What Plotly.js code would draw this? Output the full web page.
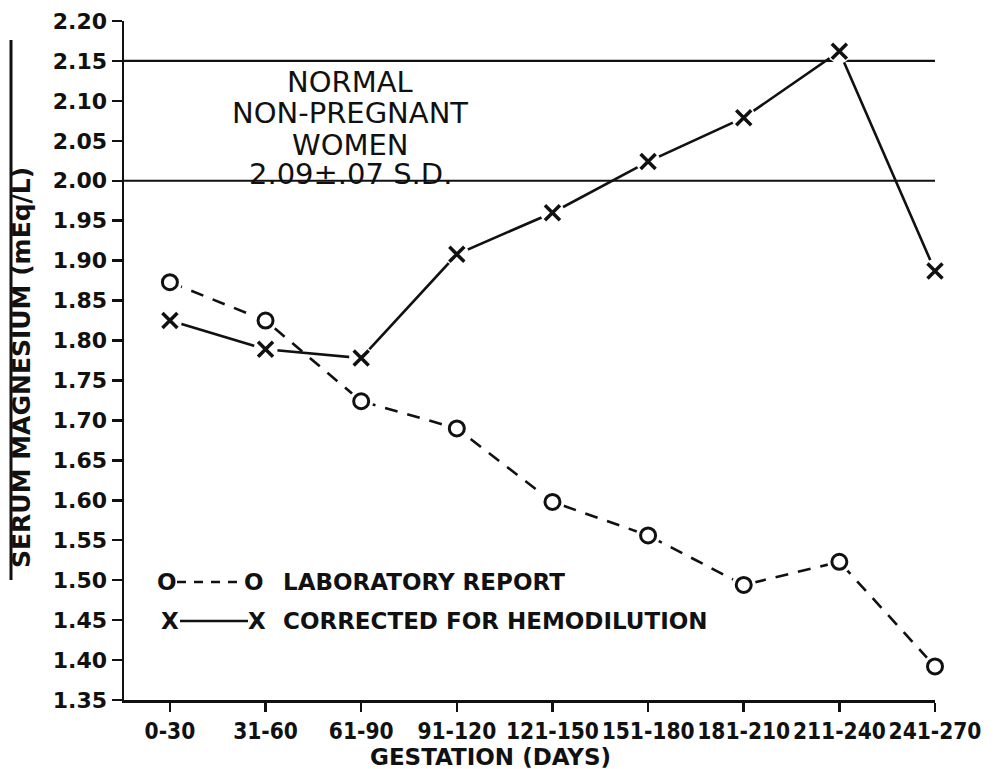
<!DOCTYPE html>
<html>
<head>
<meta charset="utf-8">
<script src="https://cdn.plot.ly/plotly-3.0.1.min.js"></script>
<style>html,body{margin:0;padding:0;background:#fff;}#chart{width:997px;height:769px;}</style>
</head>
<body>
<div id="chart"></div>
<script>
// ---- data ----
const categories = ["0-30","31-60","61-90","91-120","121-150","151-180","181-210","211-240","241-270"];
const laboratoryReport = [1.873, 1.825, 1.724, 1.690, 1.598, 1.556, 1.494, 1.523, 1.392];
const correctedForHemodilution = [1.825, 1.789, 1.778, 1.908, 1.960, 2.024, 2.079, 2.162, 1.887];
const normalBand = [2.00, 2.15];
const yTickValues = [1.35,1.40,1.45,1.50,1.55,1.60,1.65,1.70,1.75,1.80,1.85,1.90,1.95,2.00,2.05,2.10,2.15,2.20];
const yTickLabels = yTickValues.map(v => v.toFixed(2));
const normalText = ["NORMAL", "NON-PREGNANT", "WOMEN", "2.09\u00b1.07 S.D."];
const legendLabels = ["LABORATORY REPORT", "CORRECTED FOR HEMODILUTION"];
const xTitle = "GESTATION (DAYS)";
const yTitle = "SERUM MAGNESIUM (mEq/L)";

// ---- layout geometry helpers (pixel -> paper) ----
const W = 997, H = 769;
const M = {l: 124, r: 62, t: 21, b: 69};
const PW = W - M.l - M.r, PH = H - M.t - M.b;
const px = x => (x - M.l) / PW;
const py = y => (H - M.b - y) / PH;

const FONT = "DejaVu Sans, Liberation Sans, Arial, sans-serif";
const FONT_NARROW = "DejaVu Sans Condensed, Liberation Sans Narrow, DejaVu Sans, sans-serif";
const BLACK = "#111";

const traces = [
  {x: categories, y: laboratoryReport, mode: "lines", line: {color: BLACK, width: 2.6, dash: "13px,10px"}, hoverinfo: "skip", cliponaxis: false},
  {x: categories, y: correctedForHemodilution, mode: "lines", line: {color: BLACK, width: 2.6}, hoverinfo: "skip", cliponaxis: false},
  {x: categories, y: laboratoryReport, mode: "markers", marker: {symbol: "circle", size: 24, color: "#fff"}, hoverinfo: "skip", cliponaxis: false},
  {x: categories, y: correctedForHemodilution, mode: "markers", marker: {symbol: "circle", size: 24, color: "#fff"}, hoverinfo: "skip", cliponaxis: false},
  {x: categories, y: laboratoryReport, mode: "markers", name: legendLabels[0], cliponaxis: false,
   marker: {symbol: "circle-open", size: 15, color: BLACK, line: {color: BLACK, width: 3}}},
  {x: categories, y: correctedForHemodilution, mode: "markers", name: legendLabels[1], cliponaxis: false,
   marker: {symbol: "x-thin-open", size: 15, color: BLACK, line: {color: BLACK, width: 3.5}}}
];

const shapes = normalBand.map(v => ({type: "line", xref: "paper", yref: "y", x0: 0, x1: 1, y0: v, y1: v,
  line: {color: BLACK, width: 2.2}, layer: "below"}));
// rule beside the y title
shapes.push({type: "line", xref: "paper", yref: "paper", x0: px(11), x1: px(11), y0: py(40), y1: py(580), line: {color: BLACK, width: 3}});
// legend samples
shapes.push({type: "line", xref: "paper", yref: "paper", x0: px(177), x1: px(245), y0: py(582), y1: py(582), line: {color: BLACK, width: 2.6, dash: "9px,8px"}});
shapes.push({type: "line", xref: "paper", yref: "paper", x0: px(180), x1: px(248), y0: py(621), y1: py(621), line: {color: BLACK, width: 2.6}});

const annotations = [];
const normalY = [82, 113, 145, 174];
normalText.forEach((t, i) => annotations.push({xref: "paper", yref: "paper", x: px(350), y: py(normalY[i]),
  text: t, showarrow: false, xanchor: "center", yanchor: "middle", borderpad: 0,
  font: {family: FONT, size: 29, color: BLACK}}));
// legend glyphs and labels
const glyph = (t, x, y) => ({xref: "paper", yref: "paper", x: px(x), y: py(y), text: t, showarrow: false,
  xanchor: "center", yanchor: "middle", font: {family: FONT, size: 23, color: BLACK, weight: "bold"}});
annotations.push(glyph("O", 167, 582), glyph("O", 254, 582), glyph("X", 170, 621), glyph("X", 257, 621));
annotations.push({xref: "paper", yref: "paper", x: px(281), y: py(582), text: legendLabels[0], showarrow: false,
  xanchor: "left", yanchor: "middle", font: {family: FONT, size: 23, color: BLACK, weight: "bold"}});
annotations.push({xref: "paper", yref: "paper", x: px(281), y: py(621), text: legendLabels[1], showarrow: false,
  xanchor: "left", yanchor: "middle", font: {family: FONT, size: 23, color: BLACK, weight: "bold"}});
// axis titles
annotations.push({xref: "paper", yref: "paper", x: px(490), y: py(757), text: xTitle, showarrow: false,
  xanchor: "center", yanchor: "middle", font: {family: FONT, size: 23, color: BLACK, weight: "bold"}});
annotations.push({xref: "paper", yref: "paper", x: px(21), y: py(368), text: yTitle, showarrow: false, textangle: -90,
  xanchor: "center", yanchor: "middle", font: {family: FONT, size: 25, color: BLACK, weight: "bold"}});

const layout = {
  width: W, height: H,
  margin: M,
  paper_bgcolor: "#fff", plot_bgcolor: "#fff",
  showlegend: false,
  xaxis: {type: "category", range: [-0.48, 8.0], showgrid: false, zeroline: false, tickangle: 0, automargin: false,
    showline: true, linecolor: BLACK, linewidth: 2.5, ticks: "outside", ticklen: 9, tickwidth: 2.5, tickcolor: BLACK,
    tickfont: {family: FONT_NARROW, size: 22.5, color: BLACK, weight: "bold"}},
  yaxis: {range: [1.35, 2.20], tickvals: yTickValues, ticktext: yTickLabels, showgrid: false, zeroline: false, automargin: false,
    showline: true, linecolor: BLACK, linewidth: 2.5, ticks: "outside", ticklen: 10, tickwidth: 2.5, tickcolor: BLACK,
    tickfont: {family: FONT, size: 22, color: BLACK, weight: "bold"}},
  shapes: shapes,
  annotations: annotations
};

Plotly.newPlot("chart", traces, layout, {displayModeBar: false, staticPlot: true});
</script>
</body>
</html>
